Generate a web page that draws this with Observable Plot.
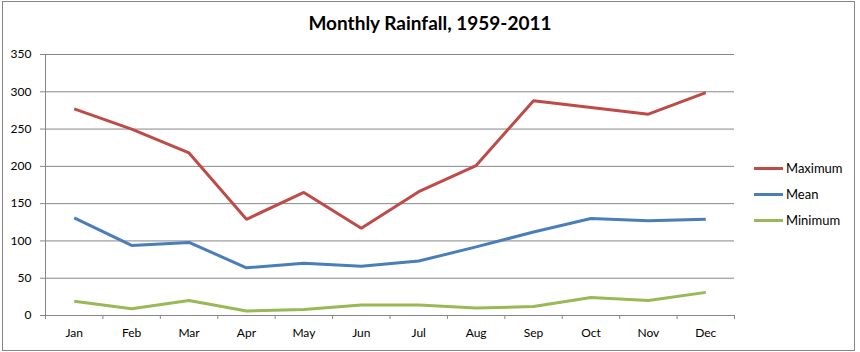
<!DOCTYPE html>
<html>
<head>
<meta charset="utf-8">
<script src="https://cdn.jsdelivr.net/npm/d3@7"></script>
<script src="https://cdn.jsdelivr.net/npm/@observablehq/plot@0.6"></script>
<style>
  html, body { margin: 0; padding: 0; background: #fff; }
  #wrap { position: relative; width: 860px; height: 352px; font-family: Lato, "Open Sans", sans-serif; }
  #border { position: absolute; left: 2px; top: 1px; width: 851px; height: 348px; border: 1px solid #868686; pointer-events: none; }
  #title { position: absolute; left: 0; top: 11px; width: 860px; text-align: center; font-size: 19px; font-weight: bold; color: #000; }
  #legend { position: absolute; left: 754px; top: 155px; font-size: 13px; color: #000; }
  .item { display: flex; align-items: center; height: 26px; line-height: 18px; }
  .swatch { width: 29px; height: 3px; margin-right: 3px; }
  #chart { position: absolute; left: 0; top: 0; }
</style>
</head>
<body>
<div id="wrap">
  <div id="chart"></div>
  <div id="title">Monthly Rainfall, 1959-2011</div>
  <div id="legend"></div>
  <div id="border"></div>
</div>
<script>
const months = ["Jan","Feb","Mar","Apr","May","Jun","Jul","Aug","Sep","Oct","Nov","Dec"];
const seriesNames = ["Maximum","Mean","Minimum"];
const seriesColors = ["#BE4B48","#4A7EBB","#98B954"];
const maximum = [277, 250, 218, 129, 165, 117, 166, 201, 288, 279, 270, 299];
const mean    = [131, 94, 98, 64, 70, 66, 73, 92, 112, 130, 127, 129];
const minimum = [19, 9, 20, 6, 8, 14, 14, 10, 12, 24, 20, 31];
const yTicks = [0, 50, 100, 150, 200, 250, 300, 350];

const seriesValues = [maximum, mean, minimum];
const data = [];
seriesNames.forEach((s, k) => {
  seriesValues[k].forEach((v, i) => data.push({series: s, i, month: months[i], value: v}));
});
const boundaries = d3.range(months.length + 1).map(i => i - 0.5);

const chart = Plot.plot({
  width: 860,
  height: 352,
  marginTop: 54,
  marginBottom: 37,
  marginLeft: 45,
  marginRight: 126,
  style: {fontFamily: "Lato, 'Open Sans', sans-serif", fontSize: "12px", color: "#000", background: "transparent"},
  x: {type: "linear", domain: [-0.5, months.length - 0.5]},
  y: {type: "linear", domain: [0, 350]},
  color: {domain: seriesNames, range: seriesColors},
  marks: [
    Plot.ruleY(yTicks, {y: d => d, x1: -0.5, x2: months.length - 0.5, stroke: "#868686", strokeWidth: 1, insetLeft: -5}),
    Plot.axisY({ticks: yTicks, tickSize: 0, tickPadding: 14, fontSize: 12, tickFormat: d => String(d), label: null}),
    Plot.ruleX([-0.5], {x: d => d, y1: 0, y2: 350, stroke: "#868686"}),
    Plot.ruleX(boundaries, {x: d => d, y1: 0, y2: 0, stroke: "#868686", insetBottom: -4}),
    Plot.axisX({ticks: d3.range(months.length), tickSize: 0, tickPadding: 13, tickFormat: i => months[i], fontSize: 12, label: null}),
    Plot.line(data, {x: "i", y: "value", z: "series", stroke: "series", strokeWidth: 3, strokeLinejoin: "miter", strokeLinecap: "butt"})
  ]
});
document.getElementById("chart").appendChild(chart);

const legend = document.getElementById("legend");
seriesNames.forEach((s, k) => {
  const it = document.createElement("div");
  it.className = "item";
  const sw = document.createElement("div");
  sw.className = "swatch";
  sw.style.background = seriesColors[k];
  const tx = document.createElement("span");
  tx.textContent = s;
  it.appendChild(sw); it.appendChild(tx);
  legend.appendChild(it);
});
</script>
</body>
</html>
